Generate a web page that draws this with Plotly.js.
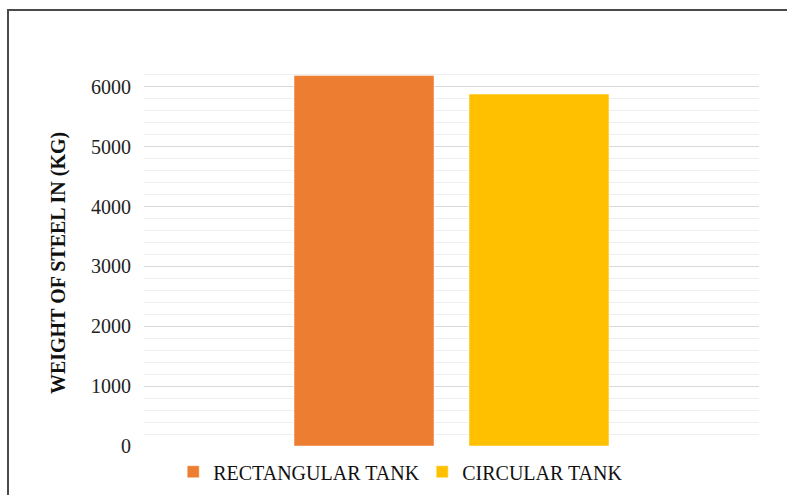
<!DOCTYPE html>
<html>
<head>
<meta charset="utf-8">
<script src="https://cdn.plot.ly/plotly-3.0.1.min.js"></script>
<style>
  html, body { margin: 0; padding: 0; background: #ffffff; }
  #frame {
    position: absolute; left: 7px; top: 9px; width: 790px; height: 500px;
    border-top: 2px solid #4a4a4a; border-left: 2px solid #4a4a4a;
    box-sizing: border-box;
  }
  #chart { position: absolute; left: 0; top: 0; width: 787px; height: 495px; }
</style>
</head>
<body>
<div id="frame"></div>
<div id="chart"></div>
<script>
// Steel weight needed for each tank design (kg)
const categories = ['Steel'];
const seriesNames = ['RECTANGULAR TANK', 'CIRCULAR TANK'];
const rectangularTank = [6190];
const circularTank = [5880];
const yTickValues = [0, 1000, 2000, 3000, 4000, 5000, 6000];
const yTickLabels = ['0', '1000', '2000', '3000', '4000', '5000', '6000'];
const yTitle = 'WEIGHT OF STEEL IN (KG)';

const serif = 'Liberation Serif, Times New Roman, serif';

const traces = [
  {
    type: 'bar', name: seriesNames[0], x: categories, y: rectangularTank,
    marker: { color: '#ED7D31', line: { color: 'rgba(255,255,255,0.45)', width: 1 } },
    hoverinfo: 'y+name'
  },
  {
    type: 'bar', name: seriesNames[1], x: categories, y: circularTank,
    marker: { color: '#FFC000', line: { color: 'rgba(255,255,255,0.45)', width: 1 } },
    hoverinfo: 'y+name'
  }
];

const layout = {
  width: 787, height: 495,
  margin: { l: 144, r: 28, t: 63, b: 49, pad: 0 },
  paper_bgcolor: 'rgba(0,0,0,0)',
  plot_bgcolor: 'rgba(0,0,0,0)',
  barmode: 'group',
  bargap: 0.431,
  bargroupgap: 0.2,
  font: { family: serif, size: 20, color: '#222222' },
  xaxis: {
    type: 'category', range: [-0.5, 0.5],
    showticklabels: false, showgrid: false, zeroline: false, showline: false, ticks: ''
  },
  yaxis: {
    range: [0, 6400], autorange: false,
    tickmode: 'array', tickvals: yTickValues, ticktext: yTickLabels,
    ticks: '', ticklabelstandoff: 12,
    showgrid: true, gridcolor: '#d9d9d9', gridwidth: 1,
    minor: { dtick: 200, showgrid: true, gridcolor: '#efefef', gridwidth: 1, ticks: '' },
    zeroline: false, showline: false,
    tickfont: { family: serif, size: 20, color: '#222222' }
  },
  // vertical axis caption, sitting a little below the plot's middle
  annotations: [{
    text: yTitle, textangle: -90, showarrow: false,
    xref: 'paper', yref: 'paper', x: -0.138, y: 0.478,
    xanchor: 'center', yanchor: 'middle',
    font: { family: serif, size: 20, color: '#111111', weight: 'bold' }
  }],
  legend: {
    orientation: 'h', xref: 'container', x: 0.2201, xanchor: 'left',
    yref: 'container', y: 0.047, yanchor: 'middle',
    entrywidth: 204, entrywidthmode: 'pixels',
    font: { family: serif, size: 20, color: '#111111' },
    bgcolor: 'rgba(0,0,0,0)', traceorder: 'normal'
  },
  showlegend: true
};

Plotly.newPlot('chart', traces, layout, { displayModeBar: false, staticPlot: true });
</script>
</body>
</html>
